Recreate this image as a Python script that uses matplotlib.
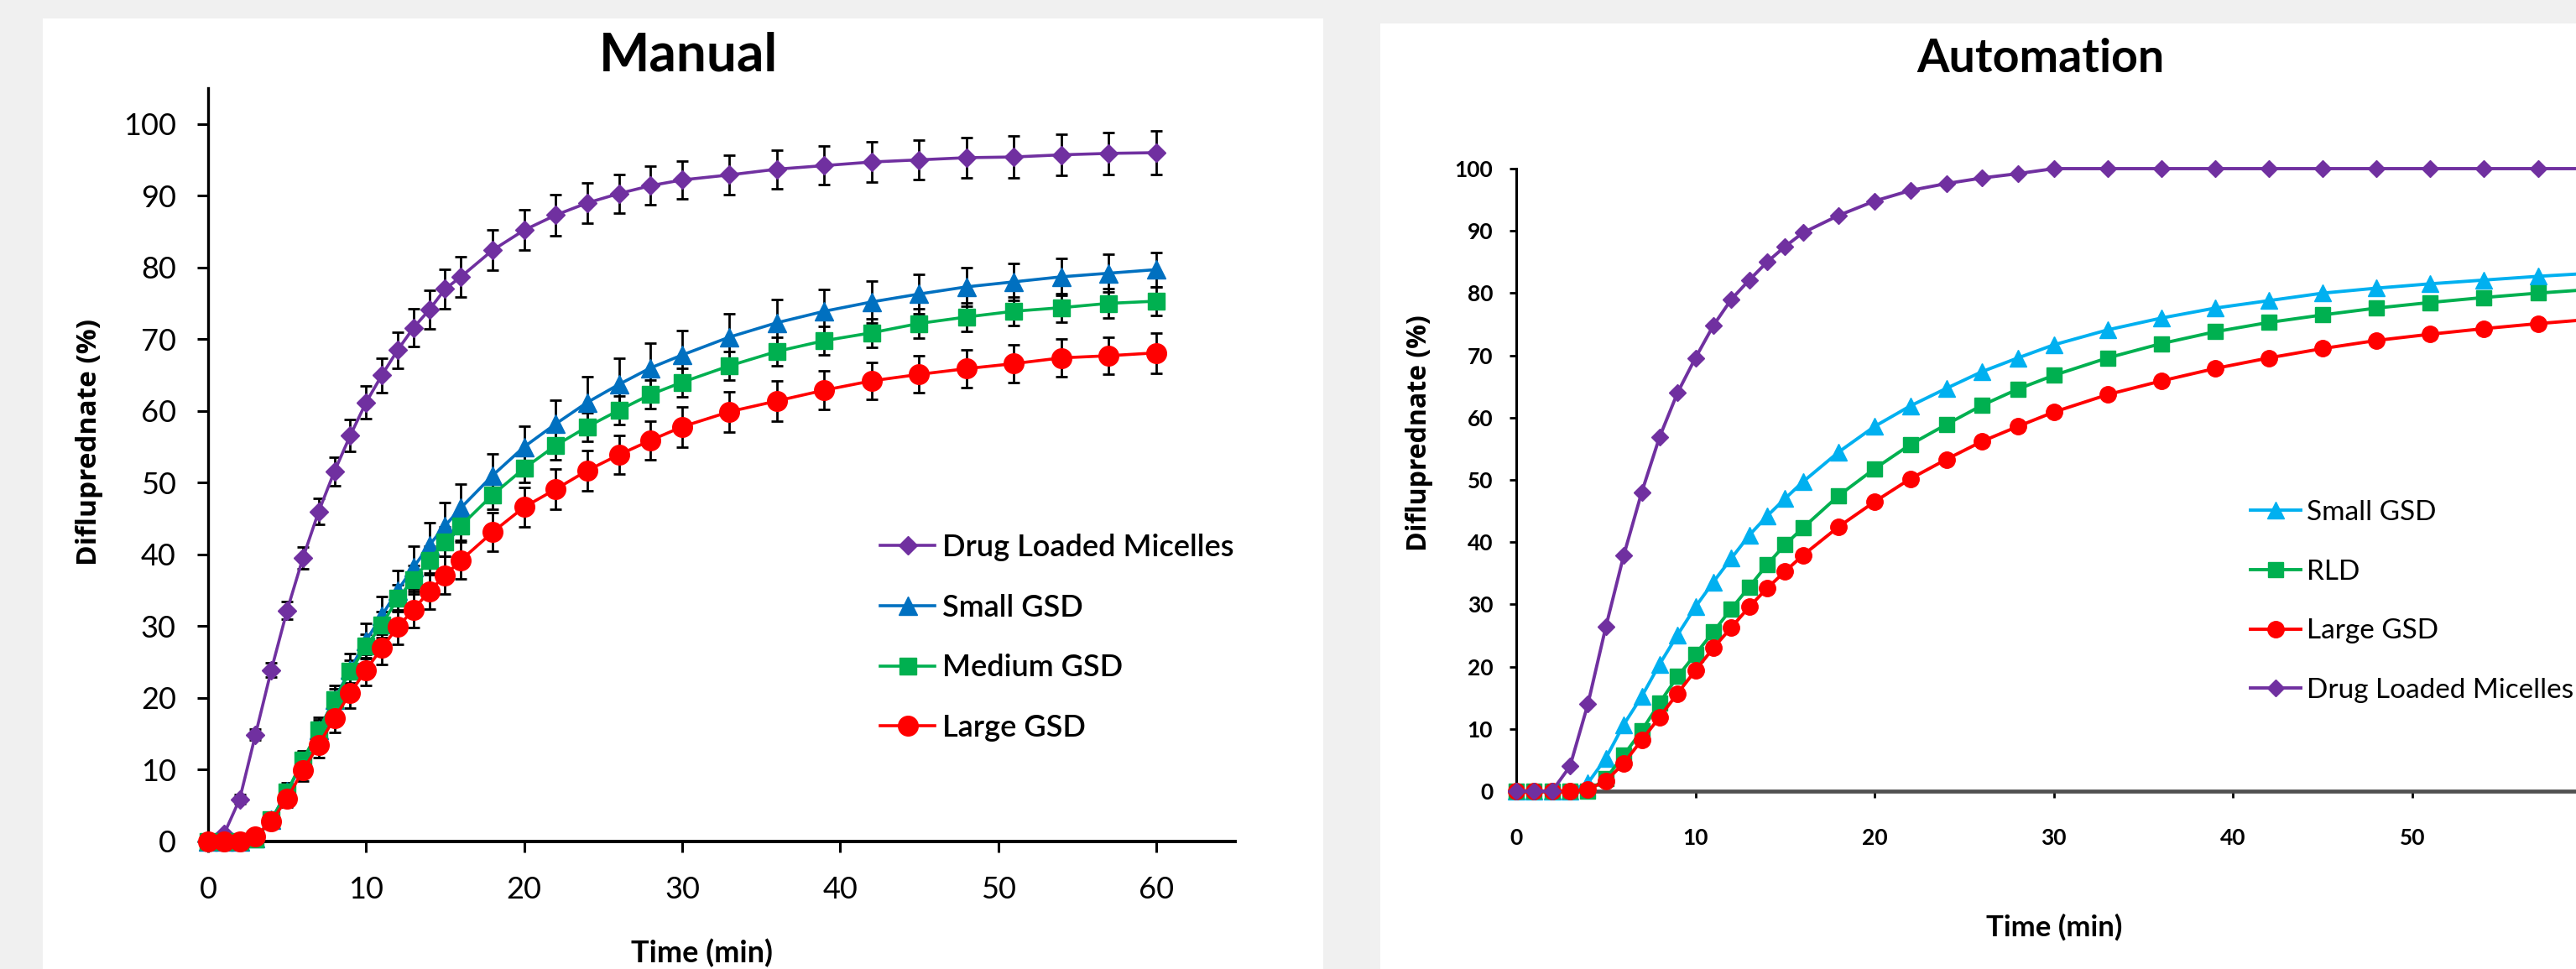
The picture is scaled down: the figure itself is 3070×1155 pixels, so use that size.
import matplotlib
matplotlib.use('Agg')
import matplotlib.pyplot as plt
from matplotlib.patches import Rectangle

plt.rcParams['font.family'] = ['Lato', 'DejaVu Sans']

W, H = 3070, 1155

TIME = [0, 1, 2, 3, 4, 5, 6, 7, 8, 9, 10, 11, 12, 13, 14, 15, 16,
        18, 20, 22, 24, 26, 28, 30,
        33, 36, 39, 42, 45, 48, 51, 54, 57, 60]

# Manual release (%), with standard deviations
MAN_MICELLES = [0, 1, 5.9, 14.9, 23.9, 32.2, 39.5, 46.0, 51.6, 56.6, 61.2, 65.0, 68.5, 71.6, 74.1, 77.0, 78.7,
                82.4, 85.2, 87.3, 89.0, 90.3, 91.4, 92.2,
                92.9, 93.7, 94.2, 94.7, 95.0, 95.3, 95.4, 95.7, 95.9, 96.0]
MAN_MICELLES_SD = [0, 0.3, 0.6, 0.8, 1.0, 1.2, 1.5, 1.8, 2.0, 2.2, 2.3, 2.4, 2.5, 2.6, 2.7, 2.7, 2.8,
                   2.8, 2.8, 2.9, 2.8, 2.7, 2.7, 2.6,
                   2.7, 2.7, 2.7, 2.8, 2.8, 2.8, 2.9, 2.9, 2.9, 3.0]
MAN_SMALL = [0, 0, 0, 0.5, 3, 7, 11, 15.5, 19.8, 24, 28, 31.5, 35, 38.2, 41.3, 44, 46.5,
             51, 55, 58.2, 61.2, 63.7, 66, 67.8,
             70.3, 72.3, 73.9, 75.2, 76.3, 77.3, 78, 78.7, 79.2, 79.7]
MAN_SMALL_SD = [0, 0, 0, 0.3, 0.8, 1.2, 1.5, 1.8, 2.0, 2.2, 2.4, 2.6, 2.8, 3.0, 3.1, 3.2, 3.3,
                3.0, 2.9, 3.3, 3.6, 3.6, 3.4, 3.4,
                3.3, 3.2, 3.0, 2.9, 2.8, 2.7, 2.6, 2.6, 2.6, 2.4]
MAN_MEDIUM = [0, 0, 0, 0.4, 3, 6.9, 11.4, 15.5, 19.8, 23.7, 27.2, 30.2, 33.9, 36.5, 39.2, 41.8, 44,
              48.3, 52, 55.2, 57.8, 60.1, 62.3, 64,
              66.3, 68.3, 69.8, 70.9, 72.2, 73.1, 73.9, 74.4, 75, 75.3]
MAN_MEDIUM_SD = [0, 0, 0, 0.2, 0.6, 1.0, 1.2, 1.4, 1.5, 1.6, 1.7, 1.8, 1.9, 2.0, 2.0, 2.0, 2.0,
                 2.0, 2.0, 2.0, 2.0, 2.0, 2.0, 2.0,
                 2.0, 2.0, 2.0, 2.0, 2.0, 2.0, 2.0, 2.0, 2.0, 2.0]
MAN_LARGE = [0, 0, 0, 0.7, 2.8, 6, 9.9, 13.5, 17.2, 20.7, 23.9, 27, 29.9, 32.3, 34.9, 37.1, 39.2,
             43.1, 46.6, 49.1, 51.7, 53.9, 55.9, 57.8,
             59.9, 61.4, 62.9, 64.2, 65.1, 65.9, 66.6, 67.4, 67.7, 68.1]
MAN_LARGE_SD = [0, 0, 0, 0.3, 0.8, 1.2, 1.5, 1.8, 2.0, 2.1, 2.2, 2.3, 2.4, 2.5, 2.5, 2.6, 2.6,
                2.7, 2.8, 2.8, 2.8, 2.7, 2.7, 2.8,
                2.8, 2.8, 2.7, 2.6, 2.6, 2.6, 2.6, 2.6, 2.6, 2.8]

# Automated release (%)
AUTO_SMALL = [0, 0, 0, 0, 1.3, 5.3, 10.7, 15.2, 20.4, 25.1, 29.6, 33.6, 37.4, 41.1, 44.2, 47, 49.7,
              54.5, 58.6, 61.9, 64.7, 67.4, 69.6, 71.7,
              74.1, 76, 77.6, 78.8, 80, 80.8, 81.5, 82.1, 82.7, 83.2]
AUTO_RLD = [0, 0, 0, 0, 0, 2, 5.8, 9.7, 14.2, 18.4, 22, 25.6, 29.3, 32.8, 36.4, 39.6, 42.3,
            47.5, 51.8, 55.7, 58.9, 62, 64.6, 66.8,
            69.6, 71.9, 73.8, 75.3, 76.5, 77.6, 78.5, 79.3, 80, 80.6]
AUTO_LARGE = [0, 0, 0, 0, 0.3, 1.6, 4.5, 8.2, 11.9, 15.7, 19.4, 23, 26.3, 29.6, 32.6, 35.3, 37.9,
              42.5, 46.5, 50.2, 53.3, 56.2, 58.6, 60.9,
              63.7, 65.9, 67.9, 69.6, 71.1, 72.4, 73.4, 74.3, 75.1, 75.8]
AUTO_MICELLES = [0, 0, 0, 4.0, 14.0, 26.4, 37.9, 48.0, 56.9, 64.0, 69.6, 74.8, 79.0, 82.1, 85.0, 87.5, 89.7,
                 92.5, 94.8, 96.5, 97.6, 98.5, 99.2, 100,
                 100, 100, 100, 100, 100, 100, 100, 100, 100, 100]

TICKS_Y = list(range(0, 101, 10))
TICKS_X = list(range(0, 61, 10))


def fx(px):
    return px / W


def fy(py):
    return 1 - py / H


fig = plt.figure(figsize=(W / 100, H / 100), dpi=100, facecolor='#f0f0f0')

# white chart areas
fig.patches.append(Rectangle((fx(51), 0), fx(1577) - fx(51), fy(22), transform=fig.transFigure,
                             facecolor='white', edgecolor='none', zorder=-10))
fig.patches.append(Rectangle((fx(1645), 0), 1 - fx(1645), fy(28), transform=fig.transFigure,
                             facecolor='white', edgecolor='none', zorder=-10))

# ---------------- Manual ----------------
ax1 = fig.add_axes([fx(248), fy(1003), fx(1472) - fx(248), fy(105) - fy(1003)])
ax1.patch.set_alpha(0)
manual = [
    ('Drug Loaded Micelles', MAN_MICELLES, MAN_MICELLES_SD, '#7030A0', 'D', 11),
    ('Small GSD', MAN_SMALL, MAN_SMALL_SD, '#0070C0', '^', 16),
    ('Medium GSD', MAN_MEDIUM, MAN_MEDIUM_SD, '#00B050', 's', 15),
    ('Large GSD', MAN_LARGE, MAN_LARGE_SD, '#FF0000', 'o', 17),
]
for label, vals, sd, color, marker, ms in manual:
    ax1.errorbar(TIME, vals, yerr=sd, fmt='none', ecolor='black', elinewidth=2.0,
                 capsize=5, capthick=2.0, zorder=2, clip_on=False)
    ax1.plot(TIME, vals, color=color, marker=marker, markersize=ms, linewidth=2.6,
             label=label, zorder=3, clip_on=False)
ax1.set_xlim(0, 65)
ax1.set_ylim(0, 105)
ax1.set_xticks(TICKS_X)
ax1.set_yticks(TICKS_Y)
for s in ['top', 'right']:
    ax1.spines[s].set_visible(False)
ax1.spines['left'].set_linewidth(2.4)
ax1.spines['bottom'].set_linewidth(2.8)
ax1.tick_params(direction='out', length=9.5, width=2.2, labelsize=26, pad=18, colors='black')
ax1.tick_params(axis='x', pad=20)
ax1.legend(loc='upper left', bbox_to_anchor=(fx(1049), fy(636)), bbox_transform=fig.transFigure,
           frameon=False, borderpad=0, borderaxespad=0, handlelength=1.8,
           handletextpad=0.25, labelspacing=1.07, prop={'size': 26, 'weight': 'semibold'})

fig.text(fx(821), fy(66), 'Manual', ha='center', va='center', fontsize=46, fontweight='bold')
fig.text(fx(107), fy(527), 'Difluprednate (%)', ha='center', va='center', rotation=90,
         fontsize=24, fontweight='bold', family=['Open Sans', 'DejaVu Sans'])
fig.text(fx(837), fy(1136), 'Time (min)', ha='center', va='center', fontsize=26, fontweight='bold')

# ---------------- Automation ----------------
ax2 = fig.add_axes([fx(1807), fy(943), 65 * 21.36 / W, fy(201) - fy(943)])
ax2.patch.set_alpha(0)
auto = [
    ('Small GSD', AUTO_SMALL, '#00B0F0', '^', 14),
    ('RLD', AUTO_RLD, '#00B050', 's', 13),
    ('Large GSD', AUTO_LARGE, '#FF0000', 'o', 14),
    ('Drug Loaded Micelles', AUTO_MICELLES, '#7030A0', 'D', 10),
]
for label, vals, color, marker, ms in auto:
    ax2.plot(TIME, vals, color=color, marker=marker, markersize=ms, linewidth=2.8,
             label=label, zorder=3, clip_on=False)
ax2.set_xlim(0, 65)
ax2.set_ylim(0, 100)
ax2.set_xticks(TICKS_X)
ax2.set_yticks(TICKS_Y)
for s in ['top', 'right']:
    ax2.spines[s].set_visible(False)
ax2.spines['left'].set_linewidth(2.2)
ax2.spines['bottom'].set_linewidth(3.4)
ax2.spines['bottom'].set_color('#505050')
ax2.tick_params(direction='out', length=6, width=2, labelsize=19, colors='black')
ax2.tick_params(axis='y', pad=14)
ax2.tick_params(axis='x', pad=26)
for t in ax2.get_xticklabels() + ax2.get_yticklabels():
    t.set_fontweight('bold')
ax2.legend(loc='upper left', bbox_to_anchor=(fx(2682), fy(596)), bbox_transform=fig.transFigure,
           frameon=False, borderpad=0, borderaxespad=0, handlelength=1.8,
           handletextpad=0.22, labelspacing=1.22, prop={'size': 24})

fig.text(fx(2432), fy(70), 'Automation', ha='center', va='center', fontsize=40, fontweight='bold')
fig.text(fx(1691), fy(516), 'Difluprednate (%)', ha='center', va='center', rotation=90,
         fontsize=23, fontweight='bold', family=['Open Sans', 'DejaVu Sans'])
fig.text(fx(2448), fy(1105), 'Time (min)', ha='center', va='center', fontsize=25, fontweight='bold')

fig.savefig('out.png', dpi=100, facecolor=fig.get_facecolor())
